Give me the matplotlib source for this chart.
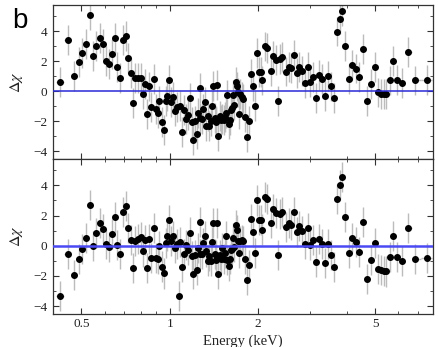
import numpy as np
import matplotlib
matplotlib.use("Agg")
import matplotlib.pyplot as plt
from matplotlib.ticker import LogLocator, FixedLocator, NullFormatter, MultipleLocator

# ---- data (energy in keV, residuals in delta-chi) ----
energy_top = [0.423, 0.450, 0.473, 0.489, 0.502, 0.517, 0.533, 0.548, 0.561, 0.577,
              0.591, 0.605, 0.621, 0.636, 0.649, 0.663, 0.679, 0.693, 0.708, 0.723,
              0.736, 0.750, 0.764, 0.780, 0.796, 0.809, 0.824, 0.837, 0.850, 0.866,
              0.882, 0.894, 0.910, 0.922, 0.939, 0.952, 0.967, 0.982, 0.995, 1.010,
              1.028, 1.044, 1.062, 1.083, 1.101, 1.119, 1.133, 1.152, 1.173, 1.189,
              1.201, 1.217, 1.233, 1.246, 1.263, 1.272, 1.285, 1.299, 1.313, 1.327,
              1.344, 1.355, 1.376, 1.394, 1.405, 1.420, 1.431, 1.440, 1.450, 1.461,
              1.481, 1.496, 1.504, 1.524, 1.543, 1.556, 1.568, 1.585, 1.602, 1.614,
              1.631, 1.644, 1.656, 1.675, 1.688, 1.701, 1.719, 1.736, 1.756, 1.769,
              1.802, 1.826, 1.855, 1.884, 1.914, 1.944, 1.980, 2.011, 2.043, 2.064,
              2.108, 2.146, 2.204, 2.244, 2.292, 2.340, 2.365, 2.409, 2.479, 2.538,
              2.585, 2.653, 2.709, 2.759, 2.825, 2.878, 2.947, 3.000, 3.072, 3.145,
              3.212, 3.289, 3.375, 3.447, 3.538, 3.631, 3.717, 3.788, 3.866, 3.958,
              4.065, 4.182, 4.295, 4.418, 4.559, 4.693, 4.842, 4.985, 5.128, 5.250,
              5.350, 5.447, 5.608, 5.769, 5.953, 6.191, 6.490, 6.856, 7.497]
resid_top = [0.58, 3.42, 1.00, 1.95, 2.53, 3.13, 5.07, 2.36, 3.04, 3.53,
             3.13, 2.04, 1.80, 2.49, 3.53, 1.58, 0.87, 3.42, 3.69, 2.18,
             1.18, -0.78, 0.89, 0.89, 0.89, -0.16, 0.47, -1.51, 0.31, -1.07,
             0.84, -1.22, -1.49, -0.64, -2.07, -2.62, -0.69, -0.30, 0.76, -0.70,
             -0.40, -1.33, -1.04, -0.97, -2.71, -1.25, -1.84, -1.60, -0.49, -2.04,
             -3.27, -1.98, -2.89, -1.49, 0.22, -1.82, -1.87, -1.20, -0.71, -2.33,
             -1.64, -2.33, -1.98, -0.98, 0.33, -1.78, -2.00, -2.09, 0.40, -2.98,
             -1.69, -1.93, -1.84, -1.91, -1.73, -1.49, -0.27, -2.22, -1.93, -1.29,
             -1.11, -0.27, -0.93, 0.62, 0.31, -0.09, -1.51, -0.22, -0.38, -0.53,
             -1.71, -3.04, -2.00, 1.13, 0.33, -0.98, 2.56, 1.29, 1.29, 0.71,
             2.98, 2.91, 1.33, 2.33, 2.07, -0.64, 2.16, 2.28, 1.31, 1.62,
             1.56, 2.42, 1.18, 1.62, 1.33, 0.56, 1.62, 0.58, 0.96, -0.44,
             1.09, 0.82, -0.31, 0.98, 0.31, -0.49, 3.98, 4.80, 5.36, 3.00,
             0.78, 1.73, 1.51, 0.93, 2.84, -0.69, 0.49, 1.60, -0.09, -0.18,
             -0.22, -0.22, 0.71, 1.98, 0.76, 0.56, 2.64, 0.71, 0.76]

energy_bot = [0.423, 0.450, 0.473, 0.489, 0.502, 0.517, 0.533, 0.548, 0.561, 0.577,
              0.591, 0.605, 0.621, 0.636, 0.649, 0.663, 0.679, 0.693, 0.708, 0.723,
              0.736, 0.750, 0.764, 0.780, 0.796, 0.809, 0.824, 0.837, 0.850, 0.866,
              0.882, 0.894, 0.910, 0.922, 0.939, 0.952, 0.967, 0.982, 0.995, 1.010,
              1.026, 1.040, 1.054, 1.071, 1.084, 1.099, 1.116, 1.131, 1.152, 1.173,
              1.189, 1.201, 1.217, 1.233, 1.246, 1.263, 1.272, 1.285, 1.299, 1.313,
              1.327, 1.344, 1.355, 1.376, 1.394, 1.405, 1.420, 1.431, 1.438, 1.446,
              1.461, 1.481, 1.496, 1.504, 1.524, 1.543, 1.556, 1.568, 1.585, 1.602,
              1.614, 1.631, 1.644, 1.656, 1.675, 1.688, 1.701, 1.719, 1.736, 1.756,
              1.769, 1.802, 1.826, 1.855, 1.884, 1.914, 1.944, 1.980, 2.011, 2.043,
              2.064, 2.108, 2.146, 2.204, 2.244, 2.292, 2.340, 2.365, 2.409, 2.479,
              2.538, 2.585, 2.653, 2.709, 2.759, 2.825, 2.878, 2.947, 3.000, 3.072,
              3.145, 3.212, 3.289, 3.375, 3.447, 3.538, 3.631, 3.717, 3.788, 3.866,
              3.958, 4.065, 4.182, 4.295, 4.418, 4.559, 4.693, 4.842, 4.985, 5.128,
              5.250, 5.350, 5.447, 5.608, 5.769, 5.953, 6.191, 6.490, 6.856, 7.497]
resid_bot = [-3.33, -0.56, -1.93, -0.89, -0.22, 0.51, 2.69, -0.04, 0.84, 1.49,
             1.13, 0.09, -0.09, 0.78, 1.93, 0.07, -0.56, 2.22, 2.64, 1.20,
             0.36, -1.49, 0.33, 0.44, 0.58, -0.38, 0.40, -1.49, 0.47, -0.80,
             1.20, -0.80, -0.89, 0.00, -1.38, -1.84, 0.18, 0.62, 1.73, 0.33,
             0.64, -0.16, 0.13, -3.33, 0.24, -1.44, -0.53, 0.04, -0.31, 0.87,
             -0.71, -1.89, -0.64, -1.60, -0.16, 1.56, -0.56, -0.53, 0.18, 0.62,
             -0.38, -1.00, -0.71, -1.04, 0.27, 1.53, -0.56, -0.93, -0.60, 1.53,
             -1.87, -0.60, -0.87, -0.13, -0.87, -0.51, 0.67, -0.93, -1.33, -0.87,
             -0.27, -0.22, 0.49, -0.09, 1.38, 1.04, 0.29, -0.49, 0.33, 0.40,
             0.33, -0.87, -2.27, -1.29, 1.78, 0.89, -0.49, 3.00, 1.73, 1.69,
             1.07, 3.24, 3.07, 1.51, 2.44, 2.18, -0.60, 2.11, 2.22, 1.24,
             1.51, 1.38, 2.22, 0.91, 1.33, 1.00, 0.13, 1.20, 0.02, 0.38,
             -1.09, 0.42, 0.13, -1.16, 0.13, -0.60, -1.44, 3.07, 4.02, 4.56,
             1.93, -0.47, 0.49, 0.27, -0.42, 1.56, -2.20, -0.96, 0.20, -1.53,
             -1.62, -1.67, -1.71, -0.73, 0.64, -0.73, -1.02, 1.20, -0.89, -0.80]

# delta-chi residuals have unit error bars by definition
delchi_err = 1.0

yticks_major = [-4, -2, 0, 2, 4]
xticks_major = [0.5, 1, 2, 5]
xtick_labels = ["0.5", "1", "2", "5"]


def half_bin_widths(e):
    e = np.asarray(e, float)
    le = np.log10(e)
    edges = np.empty(len(e) + 1)
    edges[1:-1] = 0.5 * (le[1:] + le[:-1])
    edges[0] = le[0] - (edges[1] - le[0])
    edges[-1] = le[-1] + (le[-1] - edges[-2])
    lo = e - 10 ** edges[:-1]
    hi = 10 ** edges[1:] - e
    return np.vstack([lo, hi])


serif = ["Liberation Serif", "DejaVu Serif"]
plt.rcParams['font.family'] = serif
plt.rcParams['mathtext.fontset'] = 'stix'

fig = plt.figure(figsize=(4.39, 3.47), dpi=100)
ax1 = fig.add_axes([0.1207, 0.5418, 0.8649, 0.4438])
ax2 = fig.add_axes([0.1207, 0.0951, 0.8649, 0.4467], sharex=ax1)

panels = [(ax1, energy_top, resid_top, '#2a2ad8', 1.1),
          (ax2, energy_bot, resid_bot, '#4a4af5', 1.8)]

for ax, e, r, lc, lw in panels:
    xe = half_bin_widths(e)
    ax.errorbar(e, r, yerr=delchi_err, xerr=xe, fmt='none', ecolor='#bcbcbc',
                elinewidth=1.0, capsize=0, zorder=2)
    ax.plot(e, r, 'o', color='black', markersize=4.0, zorder=3)
    ax.axhline(0, color=lc, lw=lw, zorder=4)
    ax.set_xscale('log')
    ax.set_xlim(0.4, 7.86)
    ax.set_ylim(-4.53, 5.75)
    ax.yaxis.set_major_locator(FixedLocator(yticks_major))
    ax.yaxis.set_minor_locator(MultipleLocator(1))
    ax.xaxis.set_major_locator(FixedLocator(xticks_major))
    ax.xaxis.set_minor_locator(LogLocator(base=10, subs=np.arange(1, 10)))
    ax.xaxis.set_minor_formatter(NullFormatter())
    ax.tick_params(which='both', direction='in', top=True, right=True,
                   color='#333333', labelsize=9.5, labelcolor='#222222')
    ax.tick_params(which='major', length=4, width=0.8)
    ax.tick_params(which='minor', length=2.2, width=0.6)
    ax.tick_params(axis='y', pad=4)
    ax.tick_params(axis='x', pad=3)
    for s in ax.spines.values():
        s.set_color('#333333')
        s.set_linewidth(0.9)
    ax.set_yticklabels(["\u22124", "\u22122", "0", "2", "4"])
    ax.set_ylabel(r"$\Delta\chi$", fontsize=11.5, labelpad=6, color='#222222')

ax1.tick_params(axis='x', labelbottom=False)
ax2.set_xticklabels(xtick_labels)
ax2.set_xlabel("Energy (keV)", fontsize=10.5, labelpad=3, color='#222222')

fig.text(0.028, 0.918, "b", fontsize=20, family=["Liberation Sans", "DejaVu Sans"],
         color='black')

fig.savefig("out.png", dpi=100)
